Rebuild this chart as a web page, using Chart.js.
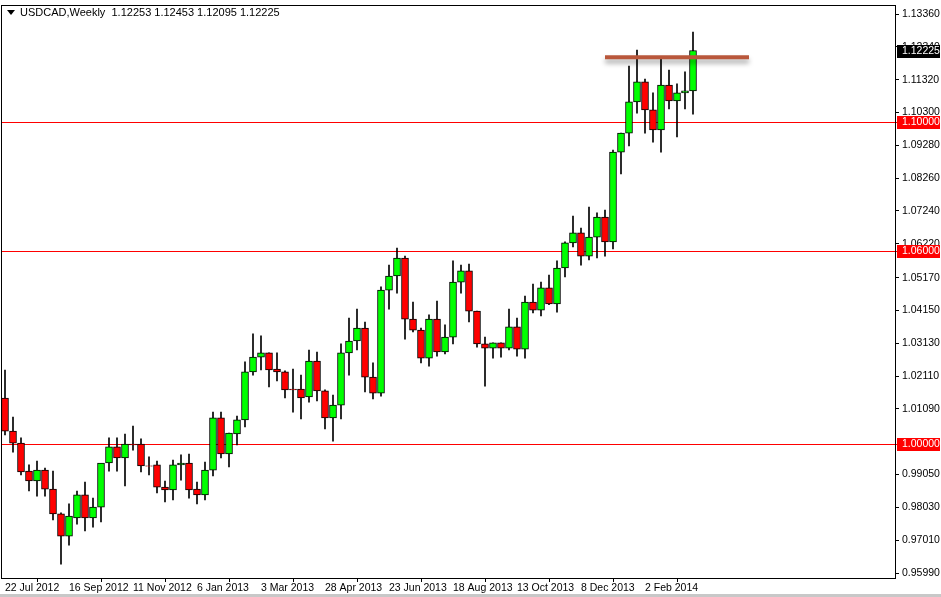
<!DOCTYPE html>
<html>
<head>
<meta charset="utf-8">
<script src="https://cdn.jsdelivr.net/npm/chart.js@4.4.0/dist/chart.umd.min.js"></script>
<style>
  html, body { margin: 0; padding: 0; background: #fff; }
  #wrap { width: 941px; height: 597px; position: relative; }
</style>
</head>
<body>
<div id="wrap"><canvas id="chart" width="941" height="597"></canvas></div>
<script>
// weekly USDCAD candles, 22 Jul 2012 onwards
const opens  = [1.0143,1.0040,1.0003,0.9916,0.9885,0.9919,0.9860,0.9783,0.9714,0.9770,0.9842,0.9770,0.9804,0.9941,0.9991,0.9957,1.0000,1.0000,0.9932,0.9935,0.9866,0.9857,0.9935,0.9941,0.9860,0.9842,0.9919,1.0081,0.9969,1.0031,1.0075,1.0224,1.0270,1.0283,1.0233,1.0224,1.0171,1.0171,1.0146,1.0258,1.0165,1.0081,1.0121,1.0283,1.0320,1.0360,1.0208,1.0158,1.0478,1.0522,1.0578,1.0388,1.0354,1.0267,1.0388,1.0286,1.0332,1.0503,1.0538,1.0413,1.0311,1.0298,1.0314,1.0298,1.0364,1.0295,1.0441,1.0416,1.0485,1.0435,1.0547,1.0625,1.0656,1.0584,1.0643,1.0705,1.0628,1.0907,1.0966,1.1063,1.1125,1.1038,1.0976,1.1115,1.1066,1.1091,1.1097];
const highs  = [1.0230,1.0084,1.0019,0.9935,0.9947,0.9925,0.9916,0.9786,0.9814,0.9854,0.9882,0.9832,0.9916,1.0019,1.0019,1.0031,1.0056,1.0016,0.9960,0.9947,0.9885,0.9950,0.9966,0.9969,0.9882,0.9944,1.0099,1.0099,1.0034,1.0087,1.0255,1.0342,1.0336,1.0283,1.0283,1.0227,1.0233,1.0214,1.0292,1.0286,1.0168,1.0152,1.0311,1.0391,1.0419,1.0379,1.0252,1.0488,1.0556,1.0609,1.0584,1.0441,1.0360,1.0401,1.0444,1.0370,1.0569,1.0556,1.0559,1.0413,1.0332,1.0314,1.0314,1.0419,1.0391,1.0460,1.0497,1.0503,1.0525,1.0569,1.0628,1.0708,1.0671,1.0736,1.0718,1.0727,1.0913,1.0966,1.1174,1.1224,1.1134,1.1091,1.1196,1.1162,1.1119,1.1156,1.1280];
const lows   = [1.0028,0.9975,0.9904,0.9854,0.9838,0.9838,0.9764,0.9627,0.9686,0.9751,0.9730,0.9742,0.9758,0.9916,0.9916,0.9870,0.9981,0.9913,0.9904,0.9848,0.9820,0.9826,0.9888,0.9832,0.9814,0.9826,0.9901,0.9957,0.9929,0.9997,1.0053,1.0214,1.0230,1.0177,1.0196,1.0143,1.0099,1.0078,1.0130,1.0134,1.0047,1.0009,1.0078,1.0214,1.0292,1.0162,1.0140,1.0149,1.0419,1.0469,1.0326,1.0348,1.0252,1.0242,1.0273,1.0280,1.0311,1.0469,1.0379,1.0301,1.0180,1.0267,1.0270,1.0292,1.0273,1.0267,1.0407,1.0398,1.0433,1.0410,1.0519,1.0612,1.0556,1.0572,1.0578,1.0584,1.0606,1.0839,1.0926,1.1028,1.0966,1.0938,1.0907,1.1041,1.0954,1.1041,1.1025];
const closes = [1.0040,1.0003,0.9913,0.9885,0.9919,0.9860,0.9783,0.9714,0.9776,0.9842,0.9770,0.9804,0.9941,0.9991,0.9957,1.0000,0.9997,0.9932,0.9931,0.9866,0.9857,0.9935,0.9941,0.9857,0.9842,0.9919,1.0081,0.9969,1.0034,1.0075,1.0224,1.0270,1.0283,1.0230,1.0224,1.0168,1.0168,1.0143,1.0258,1.0165,1.0081,1.0121,1.0283,1.0320,1.0360,1.0208,1.0158,1.0478,1.0522,1.0578,1.0388,1.0354,1.0267,1.0388,1.0286,1.0332,1.0503,1.0538,1.0413,1.0311,1.0298,1.0314,1.0298,1.0364,1.0295,1.0441,1.0416,1.0485,1.0435,1.0547,1.0625,1.0656,1.0584,1.0643,1.0705,1.0628,1.0907,1.0966,1.1063,1.1125,1.1038,1.0976,1.1115,1.1066,1.1091,1.1097,1.12225];

const dateLabels  = ["22 Jul 2012","16 Sep 2012","11 Nov 2012","6 Jan 2013","3 Mar 2013","28 Apr 2013","23 Jun 2013","18 Aug 2013","13 Oct 2013","8 Dec 2013","2 Feb 2014"];
const priceTicks  = [1.1336,1.1234,1.1132,1.1030,1.0928,1.0826,1.0724,1.0622,1.0517,1.0415,1.0313,1.0211,1.0109,0.9905,0.9803,0.9701,0.9599];
const levels      = [1.10, 1.06, 1.00];
const lastPrice   = 1.12225;
const resistance  = { price: 1.1202, from: 75, to: 93 };
const header      = "USDCAD,Weekly  1.12253 1.12453 1.12095 1.12225";

let wickData = [];
let bodyData = [];
let bodyColors = [];

for(let i = 0; i < opens.length; i++)
{
    wickData.push({ x: i, y: [lows[i], highs[i]] });
    let lo = Math.min(opens[i], closes[i]);
    let hi = Math.max(opens[i], closes[i]);
    if(hi - lo < 0.00006) hi = lo + 0.00006;
    bodyData.push({ x: i, y: [lo, hi] });
    bodyColors.push(closes[i] >= opens[i] ? "#00ff00" : "#ff0000");
}

const FONT = "Liberation Sans";

/**
 * Draws the level lines, price boxes, resistance line and the header.
 */
const overlays = {
    id: "overlays",
    beforeDatasetsDraw(chart) {
        const ctx = chart.ctx;
        const area = chart.chartArea;
        const ys = chart.scales.y;
        ctx.save();
        ctx.strokeStyle = "#ff0000";
        ctx.lineWidth = 1;
        for(let i = 0; i < levels.length; i++)
        {
            let py = Math.round(ys.getPixelForValue(levels[i])) + 0.5;
            ctx.beginPath();
            ctx.moveTo(area.left, py);
            ctx.lineTo(area.right + 4, py);
            ctx.stroke();
        }
        ctx.restore();
    },
    afterDraw(chart) {
        const ctx = chart.ctx;
        const area = chart.chartArea;
        const xs = chart.scales.x;
        const ys = chart.scales.y;
        ctx.save();

        // resistance line with a soft shadow
        let ry = ys.getPixelForValue(resistance.price);
        ctx.shadowColor = "rgba(0,0,0,0.35)";
        ctx.shadowBlur = 5;
        ctx.shadowOffsetY = 4;
        ctx.strokeStyle = "#b9573b";
        ctx.lineWidth = 4;
        ctx.beginPath();
        ctx.moveTo(xs.getPixelForValue(resistance.from), ry);
        ctx.lineTo(xs.getPixelForValue(resistance.to), ry);
        ctx.stroke();
        ctx.shadowColor = "transparent";

        // frame
        ctx.strokeStyle = "#000";
        ctx.lineWidth = 1;
        ctx.strokeRect(area.left + 0.5, area.top + 0.5, area.right - area.left, area.bottom - area.top);

        // price boxes on the right
        ctx.font = "10.5px '" + FONT + "'";
        ctx.textBaseline = "middle";
        const boxes = levels.map(v => ({ v: v, bg: "#ff0000", fg: "#fff", t: v.toFixed(5) }));
        boxes.push({ v: lastPrice, bg: "#000", fg: "#fff", t: lastPrice.toFixed(5) });
        for(let i = 0; i < boxes.length; i++)
        {
            let py = Math.round(ys.getPixelForValue(boxes[i].v));
            ctx.fillStyle = boxes[i].bg;
            ctx.fillRect(area.right + 2, py - 6, 941 - area.right - 3, 13);
            ctx.fillStyle = boxes[i].fg;
            ctx.fillText(boxes[i].t, area.right + 7, py + 0.5);
        }

        // header
        ctx.fillStyle = "#000";
        ctx.beginPath();
        ctx.moveTo(7, 10); ctx.lineTo(15, 10); ctx.lineTo(11, 15); ctx.closePath();
        ctx.fill();
        ctx.font = "11px '" + FONT + "'";
        ctx.fillText(header, 20, 12.5);

        // bottom border of the window
        ctx.fillStyle = "#c8c8c8";
        ctx.fillRect(0, 594, 941, 3);
        ctx.restore();
    }
};

let myChart = new Chart(document.getElementById("chart"), {
    type: "bar",
    data: {
        datasets: [
            {
                label: "wicks",
                data: wickData,
                backgroundColor: "#000",
                barThickness: 1,
                order: 2
            },
            {
                label: "bodies",
                data: bodyData,
                backgroundColor: bodyColors,
                borderColor: "#000",
                borderWidth: 1,
                borderSkipped: false,
                barThickness: 7,
                order: 1
            }
        ]
    },
    plugins: [overlays],
    options: {
        responsive: false,
        animation: false,
        devicePixelRatio: 1,
        layout: { padding: { top: 5, left: 1, right: 0, bottom: 0 } },
        plugins: { legend: { display: false }, tooltip: { enabled: false } },
        datasets: { bar: { grouped: false } },
        scales: {
            x: {
                type: "linear",
                offset: false,
                min: -0.5,
                max: 111.25,
                afterBuildTicks: (axis) => {
                    axis.ticks = dateLabels.map((l, i) => ({ value: i * 8 }));
                },
                afterFit: (axis) => { axis.height = 19; },
                grid: { drawOnChartArea: false, tickLength: 4, color: "#000" },
                border: { display: false },
                ticks: {
                    autoSkip: false,
                    maxRotation: 0,
                    align: "start",
                    padding: 0,
                    color: "#000",
                    font: { family: FONT, size: 10.5 },
                    callback: (v) => dateLabels[Math.round(v / 8)]
                }
            },
            y: {
                position: "right",
                min: 0.95837,
                max: 1.13640,
                afterBuildTicks: (axis) => {
                    axis.ticks = priceTicks.map(v => ({ value: v }));
                },
                afterFit: (axis) => { axis.width = 46; axis.paddingTop = 0; axis.paddingBottom = 0; },
                grid: { drawOnChartArea: false, tickLength: 4, color: "#000" },
                border: { display: false },
                ticks: {
                    padding: 3,
                    color: "#000",
                    font: { family: FONT, size: 10.5 },
                    callback: (v) => v.toFixed(5)
                }
            }
        }
    }
});
</script>
</body>
</html>
